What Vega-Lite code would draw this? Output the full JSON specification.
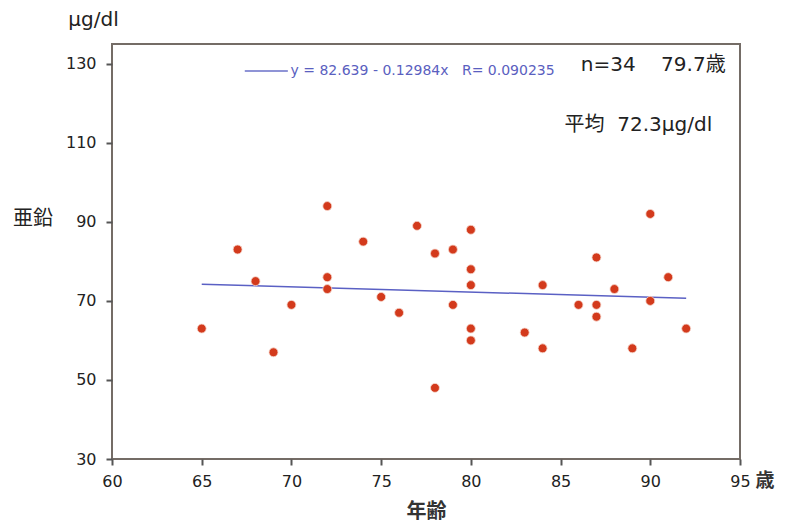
{
  "$schema": "https://vega.github.io/schema/vega-lite/v6.json",
  "width": 628,
  "height": 415,
  "autosize": {"type": "none"},
  "padding": {"left": 112, "top": 44, "right": 52, "bottom": 64},
  "background": "white",
  "config": {
    "view": {"stroke": "#746c66", "strokeWidth": 2},
    "font": "Noto Sans CJK JP"
  },
  "datasets": {
    "points": [
      {"age": 65, "zinc": 63}, {"age": 67, "zinc": 83}, {"age": 68, "zinc": 75}, {"age": 69, "zinc": 57},
      {"age": 70, "zinc": 69}, {"age": 72, "zinc": 94}, {"age": 72, "zinc": 76}, {"age": 72, "zinc": 73},
      {"age": 74, "zinc": 85}, {"age": 75, "zinc": 71}, {"age": 76, "zinc": 67}, {"age": 77, "zinc": 89},
      {"age": 78, "zinc": 82}, {"age": 78, "zinc": 48}, {"age": 79, "zinc": 83}, {"age": 79, "zinc": 69},
      {"age": 80, "zinc": 88}, {"age": 80, "zinc": 78}, {"age": 80, "zinc": 74}, {"age": 80, "zinc": 63},
      {"age": 80, "zinc": 60}, {"age": 83, "zinc": 62}, {"age": 84, "zinc": 74}, {"age": 84, "zinc": 58},
      {"age": 86, "zinc": 69}, {"age": 87, "zinc": 81}, {"age": 87, "zinc": 69}, {"age": 87, "zinc": 66},
      {"age": 88, "zinc": 73}, {"age": 89, "zinc": 58}, {"age": 90, "zinc": 92}, {"age": 90, "zinc": 70},
      {"age": 91, "zinc": 76}, {"age": 92, "zinc": 63}
    ],
    "fit": [{"age": 65, "zinc": 74.2}, {"age": 92, "zinc": 70.69}],
    "legendline": [{"age": 67.4, "zinc": 128.2}, {"age": 69.8, "zinc": 128.2}],
    "labels": [
      {"age": 69.95, "zinc": 128.2, "label": "y = 82.639 - 0.12984x\u00a0\u00a0 R= 0.090235", "kind": "eq"},
      {"age": 94.2, "zinc": 129.7, "label": "n=34\u00a0\u00a0\u00a0 79.7歳", "kind": "big"},
      {"age": 93.45, "zinc": 114.6, "label": "平均\u00a0 72.3μg/dl", "kind": "big"}
    ],
    "outer": [
      {"age": 58.97, "zinc": 141.1, "label": "μg/dl"},
      {"age": 55.6, "zinc": 90.6, "label": "亜鉛"}
    ]
  },
  "layer": [
    {
      "data": {"name": "fit"},
      "mark": {"type": "line", "color": "#5a60c4", "strokeWidth": 1.5},
      "encoding": {
        "x": {
          "field": "age", "type": "quantitative",
          "scale": {"domain": [60, 95], "nice": false, "zero": false},
          "axis": {
            "values": [60, 65, 70, 75, 80, 85, 90, 95],
            "domain": false, "grid": false, "labelFlush": false,
            "tickColor": "#555", "tickSize": 6, "tickWidth": 2,
            "labelFont": "DejaVu Sans", "labelFontSize": 16, "labelColor": "#222", "labelPadding": 8,
            "title": "年齢", "titleFont": "Noto Sans CJK JP", "titleFontSize": 20, "titleFontWeight": "bold",
            "titleColor": "#333", "titleY": 52, "titleBaseline": "middle"
          }
        },
        "y": {
          "field": "zinc", "type": "quantitative",
          "scale": {"domain": [30, 135], "nice": false, "zero": false},
          "axis": {
            "values": [30, 50, 70, 90, 110, 130],
            "domain": false, "grid": false,
            "tickColor": "#555", "tickSize": 6, "tickWidth": 2,
            "labelFont": "DejaVu Sans", "labelFontSize": 16, "labelColor": "#222", "labelPadding": 10,
            "title": null
          }
        }
      }
    },
    {
      "data": {"name": "points"},
      "mark": {"type": "circle", "size": 80, "color": "#d33a1c", "opacity": 1, "stroke": "#f6d9cf", "strokeWidth": 0.8},
      "encoding": {
        "x": {"field": "age", "type": "quantitative"},
        "y": {"field": "zinc", "type": "quantitative"}
      }
    },
    {
      "data": {"name": "legendline"},
      "mark": {"type": "line", "color": "#6a70c8", "strokeWidth": 1.5},
      "encoding": {
        "x": {"field": "age", "type": "quantitative"},
        "y": {"field": "zinc", "type": "quantitative"}
      }
    },
    {
      "data": {"name": "labels"},
      "transform": [{"filter": "datum.kind == 'eq'"}],
      "mark": {"type": "text", "align": "left", "baseline": "middle", "fontSize": 14, "color": "#5a60c0", "font": "DejaVu Sans"},
      "encoding": {
        "x": {"field": "age", "type": "quantitative"},
        "y": {"field": "zinc", "type": "quantitative"},
        "text": {"field": "label"}
      }
    },
    {
      "data": {"name": "labels"},
      "transform": [{"filter": "datum.kind == 'big'"}],
      "mark": {"type": "text", "align": "right", "baseline": "middle", "fontSize": 20, "color": "#222", "font": "DejaVu Sans, Noto Sans CJK JP"},
      "encoding": {
        "x": {"field": "age", "type": "quantitative"},
        "y": {"field": "zinc", "type": "quantitative"},
        "text": {"field": "label"}
      }
    },
    {
      "data": {"name": "outer"},
      "mark": {"type": "text", "align": "center", "baseline": "middle", "fontSize": 20, "color": "#222", "clip": false, "font": "DejaVu Sans, Noto Sans CJK JP"},
      "encoding": {
        "x": {"field": "age", "type": "quantitative"},
        "y": {"field": "zinc", "type": "quantitative"},
        "text": {"field": "label"}
      }
    },
    {
      "data": {"values": [{"age": 96.4, "zinc": 30, "label": "歳"}]},
      "mark": {"type": "text", "align": "center", "baseline": "middle", "dy": 22, "fontSize": 19, "fontWeight": "bold", "color": "#333", "clip": false},
      "encoding": {
        "x": {"field": "age", "type": "quantitative"},
        "y": {"field": "zinc", "type": "quantitative"},
        "text": {"field": "label"}
      }
    }
  ]
}
